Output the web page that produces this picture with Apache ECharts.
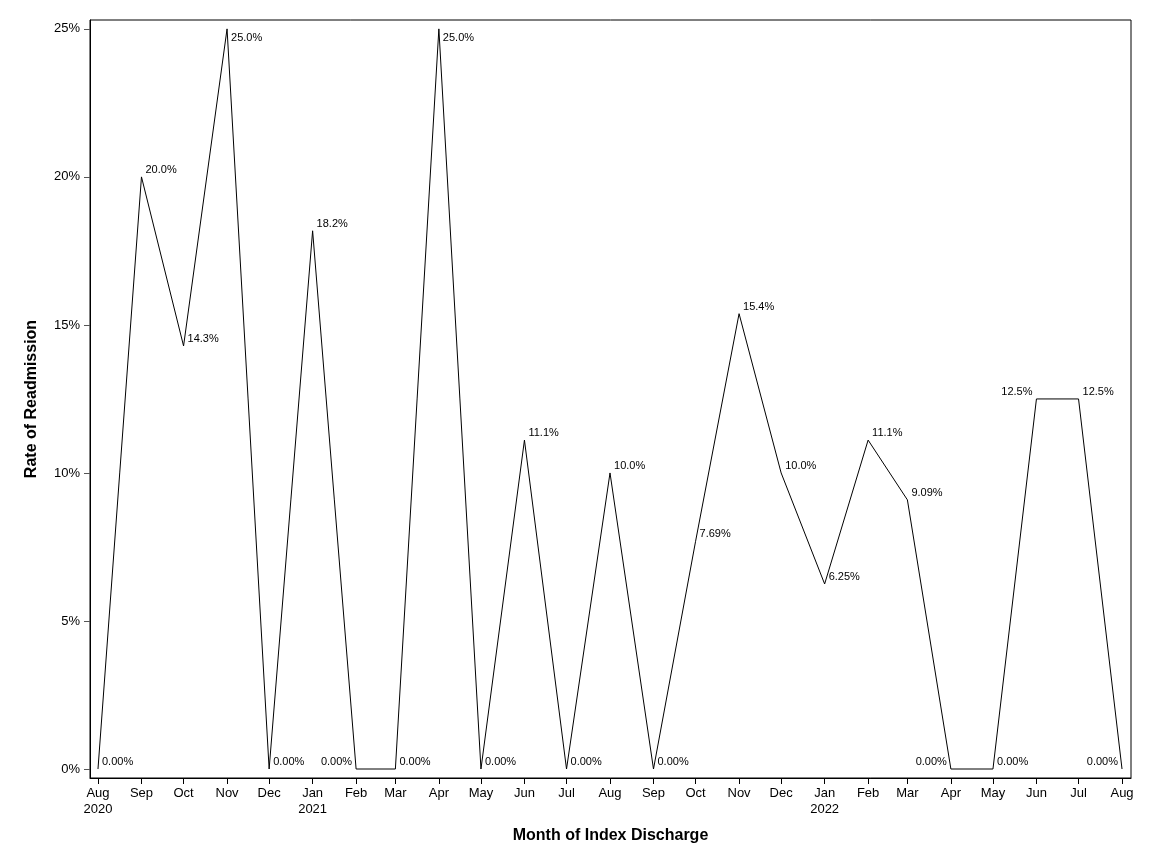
<!DOCTYPE html>
<html lang="en">
<head>
    <meta charset="UTF-8">
    <title>Rate of Readmission</title>
    <style>
        * { padding: 0; margin: 0; }
        .EC { width: 1152px; height: 864px; }
    </style>
</head>
<body>
<div class="EC"></div>
<script src="https://cdn.jsdelivr.net/npm/echarts@6/dist/echarts.min.js"></script>
<script>
    // month of index discharge (first of month)
    const months = ['2020-08', '2020-09', '2020-10', '2020-11', '2020-12',
        '2021-01', '2021-02', '2021-03', '2021-04', '2021-05', '2021-06', '2021-07',
        '2021-08', '2021-09', '2021-10', '2021-11', '2021-12',
        '2022-01', '2022-02', '2022-03', '2022-04', '2022-05', '2022-06', '2022-07', '2022-08']
    // rate of readmission, %
    const rates = [0, 20.0, 14.29, 25.0, 0,
        18.18, 0, 0, 25.0, 0, 11.11, 0,
        10.0, 0, 7.692, 15.38, 10.0,
        6.25, 11.11, 9.091, 0, 0, 12.5, 12.5, 0]
    // months whose label sits left of the point
    const leftLabels = ['2021-02', '2022-04', '2022-06', '2022-08']
    const yTicks = [0, 5, 10, 15, 20, 25]
    const monthNames = ['Jan', 'Feb', 'Mar', 'Apr', 'May', 'Jun', 'Jul', 'Aug', 'Sep', 'Oct', 'Nov', 'Dec']

    const FONT = 'Liberation Sans'
    const toTime = s => {
        let p = s.split('-')
        return new Date(+p[0], +p[1] - 1, 1).getTime()
    }
    const DAY = 86400000
    const times = months.map(toTime)

    let EC = echarts.init(document.querySelector('.EC'))
    let data = months.map((m, i) => {
        let left = leftLabels.indexOf(m) >= 0
        // labels at the top edge drop below the point
        let dy = rates[i] >= 24 ? 9 : -7
        return {
            value: [times[i], rates[i]],
            label: {
                position: [left ? -4 : 4, dy],
                align: left ? 'right' : 'left',
                verticalAlign: 'middle'
            }
        }
    })
    let option = {
        backgroundColor: '#fff',
        animation: false,
        grid: {
            left: 90, right: 21, top: 20, bottom: 86,
            show: true, borderColor: '#000', borderWidth: 1
        },
        xAxis: {
            type: 'value',
            min: times[0] - 5.7 * DAY,
            max: times[times.length - 1] + 6.4 * DAY,
            name: 'Month of Index Discharge',
            nameLocation: 'middle',
            nameGap: 50,
            nameMoveOverlap: false,
            nameTextStyle: { fontFamily: FONT, fontWeight: 'bold', fontSize: 16, color: '#000' },
            axisLine: { onZero: false, lineStyle: { color: '#000' } },
            axisTick: { customValues: times, length: 6, lineStyle: { color: '#000' } },
            axisLabel: {
                customValues: times,
                fontFamily: FONT, fontSize: 13, color: '#000', margin: 7, lineHeight: 16,
                formatter: v => {
                    let d = new Date(v)
                    let t = monthNames[d.getMonth()]
                    if (v === times[0] || d.getMonth() === 0) t += '\n' + d.getFullYear()
                    return t
                }
            },
            splitLine: { show: false }
        },
        yAxis: {
            type: 'value',
            min: -0.304,
            max: 25.30,
            name: 'Rate of Readmission',
            nameLocation: 'middle',
            nameGap: 50,
            nameMoveOverlap: false,
            nameTextStyle: { fontFamily: FONT, fontWeight: 'bold', fontSize: 16, color: '#000' },
            axisLine: { show: true, onZero: false, lineStyle: { color: '#000' } },
            axisTick: { show: true, customValues: yTicks, length: 6, lineStyle: { color: '#555' } },
            axisLabel: {
                customValues: yTicks,
                fontFamily: FONT, fontSize: 13, color: '#000', margin: 10,
                formatter: v => v + '%'
            },
            splitLine: { show: false }
        },
        series: [{
            type: 'line',
            data: data,
            showSymbol: true,
            symbol: 'circle',
            symbolSize: 0,
            lineStyle: { color: '#000', width: 1 },
            itemStyle: { color: '#000' },
            label: {
                show: true,
                fontFamily: FONT, fontSize: 11, color: '#000',
                formatter: p => p.value[1].toPrecision(3) + '%'
            },
            labelLayout: { hideOverlap: false }
        }]
    }
    EC.setOption(option)
</script>
</body>
</html>
